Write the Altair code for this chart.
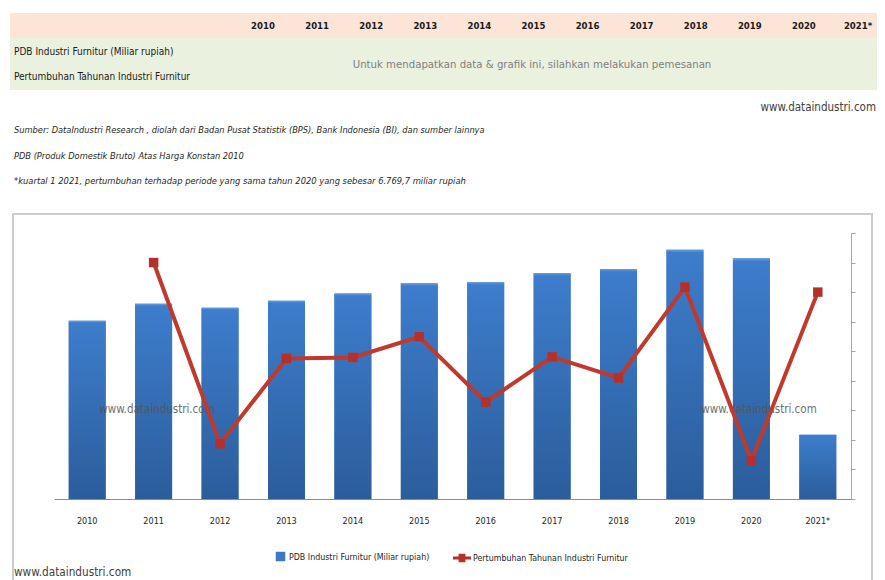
import altair as alt
import pandas as pd

# ---------------- data ----------------
years = ["2010", "2011", "2012", "2013", "2014", "2015", "2016", "2017", "2018", "2019", "2020", "2021*"]
pdb = [20110, 22030, 21580, 22370, 23190, 24320, 24460, 25490, 25940, 28120, 27140, 7250]
growth = [None, 10.0, -2.26, 3.51, 3.58, 4.98, 0.56, 3.62, 2.19, 8.34, -3.40, 8.0]
growth_ticks = [-6, -4, -2, 0, 2, 4, 6, 8, 10, 12]

pdb_name = "PDB Industri Furnitur (Miliar rupiah)"
growth_name = "Pertumbuhan Tahunan Industri Furnitur"
table_msg = "Untuk mendapatkan data & grafik ini, silahkan melakukan pemesanan"
site = "www.dataindustri.com"
notes = [
    "Sumber: DataIndustri Research , diolah dari Badan Pusat Statistik (BPS), Bank Indonesia (BI), dan sumber lainnya",
    "PDB (Produk Domestik Bruto) Atas Harga Konstan 2010",
    "*kuartal 1 2021, pertumbuhan terhadap periode yang sama tahun 2020 yang sebesar 6.769,7 miliar rupiah",
]

df = pd.DataFrame({"year": years, "pdb": pdb, "growth": growth})
df["pdb_name"] = pdb_name
df["growth_name"] = growth_name
hdr = pd.DataFrame({"year": years})

FONT = "DejaVu Sans Condensed, DejaVu Sans, sans-serif"
BLUE = "#3a78c8"
RED = "#c0392b"


def label(text, x, y, size, color="#262626", align="left", weight="normal", style="normal", opacity=1.0):
    return alt.Chart(pd.DataFrame({"t": [text]})).mark_text(
        align=align, baseline="middle", font=FONT, fontSize=size, color=color,
        fontWeight=weight, fontStyle=style, opacity=opacity,
    ).encode(x=alt.value(x), y=alt.value(y), text="t:N")


def panel(x, x2, y, y2, fill, stroke=None, sw=1, fill_opacity=1.0):
    kw = dict(fill=fill, fillOpacity=fill_opacity)
    if stroke:
        kw.update(stroke=stroke, strokeWidth=sw)
    return alt.Chart(pd.DataFrame({"a": [0]})).mark_rect(**kw).encode(
        x=alt.value(x), x2=alt.value(x2), y=alt.value(y), y2=alt.value(y2)
    )


# ---------------- main chart ----------------
X = alt.X(
    "year:N", sort=years,
    scale=alt.Scale(paddingInner=0.444, paddingOuter=0.222),
    axis=alt.Axis(title=None, labelAngle=0, ticks=False, domainColor="#8c8c8c", domainWidth=1.2,
                  labelFont=FONT, labelFontSize=9, labelColor="#262626", labelPadding=17, zindex=1),
)
Yb = alt.Y("pdb:Q", scale=alt.Scale(domain=[0, 30000], nice=False), axis=None)
Yg = alt.Y(
    "growth:Q", scale=alt.Scale(domain=[-6, 12], nice=False, zero=False),
    axis=alt.Axis(orient="right", values=growth_ticks, labels=False, title=None, grid=False,
                  domainColor="#a6a6a6", tickColor="#a6a6a6", tickSize=4, zindex=1),
)

gradient = {
    "gradient": "linear", "x1": 0, "y1": 0, "x2": 0, "y2": 1,
    "stops": [
        {"offset": 0, "color": "#6a9fe0"},
        {"offset": 0.012, "color": "#3d7dcc"},
        {"offset": 1, "color": "#2b5d9b"},
    ],
}

bars_base = alt.Chart(df).mark_bar().encode(
    x=X, y=Yb,
    color=alt.Color("pdb_name:N", scale=alt.Scale(domain=[pdb_name], range=[BLUE]),
                    legend=alt.Legend(orient="none", legendX=221, legendY=318, title=None,
                                      symbolType="square", symbolSize=90, labelFont=FONT,
                                      labelFontSize=8.8, labelColor="#262626", labelLimit=300,
                                      padding=0, labelOffset=3)),
)
bars_shade = alt.Chart(df).mark_bar(color=gradient).encode(x=X, y=Yb)
bars = alt.layer(bars_base, bars_shade)

wm1 = label(site, 103, 177, 11.5, color="#555555", align="center", opacity=0.85)
wm2 = label(site, 705, 177, 11.5, color="#555555", align="center", opacity=0.85)

LEG_PATH = "M-1,-0.16L1,-0.16L1,0.16L-1,0.16ZM-0.38,-0.48L0.38,-0.48L0.38,0.48L-0.38,0.48Z"
line = alt.Chart(df).mark_line(color=RED, strokeWidth=4).encode(x=X, y=Yg)
pts = alt.Chart(df).mark_point(shape="square", filled=True, size=90, opacity=1).encode(
    x=X, y=Yg,
    color=alt.Color("growth_name:N", scale=alt.Scale(domain=[growth_name], range=["#b5302a"]),
                    legend=alt.Legend(orient="none", legendX=399, legendY=316, title=None,
                                      symbolType=LEG_PATH, symbolSize=324, labelFont=FONT,
                                      labelFontSize=8.8, labelColor="#262626", labelLimit=300,
                                      padding=0, labelOffset=2, symbolStrokeWidth=0)),
)
growth_layer = alt.layer(line, pts)

inner = alt.layer(bars, wm1, wm2, growth_layer).resolve_scale(
    y="independent", color="independent"
).resolve_legend(color="independent")

# ---------------- table & notes (decoration) ----------------
box = panel(-41, 818, -19, 420, "#ffffff", stroke="#cccccc", sw=2, fill_opacity=0)
band_head = panel(-44, 823, -220, -195, "#fce5d7")
band_body = panel(-44, 823, -195, -143, "#ebf1df")

head_years = alt.Chart(hdr).mark_text(
    font=FONT, fontSize=9.5, fontWeight="bold", color="#1a1a1a", baseline="middle"
).encode(
    x=alt.X("year:N", sort=years, scale=alt.Scale(type="point", domain=years, range=[209, 804], padding=0),
            axis=None),
    y=alt.value(-207),
    text="year:N",
)
row1 = label(pdb_name, -40, -181, 10, color="#1a1a1a")
row2 = label(growth_name, -40, -156, 10, color="#1a1a1a")
msg = label(table_msg, 478, -168, 11.3, color="#7f7f7f", align="center")

site_top = label(site, 822, -125, 11.5, color="#404040", align="right")
n1 = label(notes[0], -40, -103, 9.2, style="italic")
n2 = label(notes[1], -40, -77, 9.2, style="italic")
n3 = label(notes[2], -40, -52, 9.3, style="italic")
site_bottom = label(site, -40, 339, 11.7, color="#404040")

chart = alt.layer(
    box, band_head, band_body, head_years, row1, row2, msg,
    site_top, n1, n2, n3, inner, site_bottom,
).resolve_scale(
    x="independent", y="independent", color="independent"
).resolve_legend(color="independent").properties(
    width=797, height=266,
    padding={"left": 46, "top": 225, "right": 26, "bottom": 81},
    autosize=alt.AutoSizeParams(type="none"),
    background="#ffffff",
).configure_view(stroke=None)

chart.save("out.html", embed_options={"renderer": "svg", "actions": False})
